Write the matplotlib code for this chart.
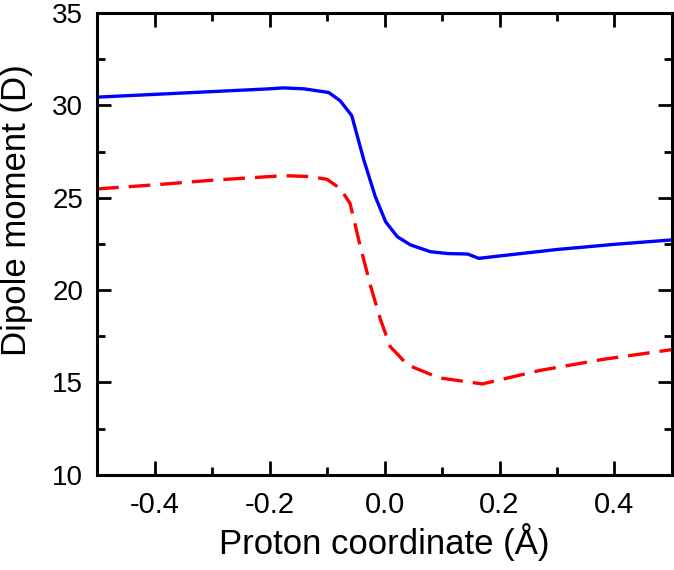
import matplotlib
matplotlib.use('Agg')
import matplotlib.pyplot as plt
from matplotlib.ticker import MultipleLocator

plt.rcParams['font.family'] = ['Liberation Sans', 'DejaVu Sans']

# solid blue curve
x_blue = [-0.5, -0.4, -0.3, -0.2, -0.176, -0.14, -0.097, -0.077, -0.057, -0.036,
          -0.016, 0.002, 0.022, 0.045, 0.08, 0.11, 0.138, 0.145, 0.164, 0.2,
          0.3, 0.4, 0.5]
y_blue = [30.45, 30.6, 30.75, 30.9, 30.95, 30.9, 30.7, 30.25, 29.45, 27.05,
          25.06, 23.7, 22.9, 22.45, 22.08, 21.98, 21.96, 21.95, 21.72, 21.85,
          22.2, 22.48, 22.72]

# dashed red curve
x_red = [-0.5, -0.4, -0.3, -0.2, -0.176, -0.13, -0.1, -0.077, -0.06, -0.042,
         -0.024, -0.007, 0.01, 0.04, 0.095, 0.17, 0.27, 0.38, 0.5]
y_red = [25.48, 25.7, 25.95, 26.15, 26.2, 26.15, 26.0, 25.5, 24.7, 22.35,
         20.2, 18.4, 16.94, 15.95, 15.25, 14.92, 15.65, 16.25, 16.78]

fig = plt.figure(figsize=(6.74, 5.7), dpi=100)
ax = fig.add_axes([0.144, 0.167, 0.853, 0.81])

ax.plot(x_blue, y_blue, color='#0000ff', lw=2.4, solid_joinstyle='round')
ax.plot(x_red, y_red, color='#ff0000', lw=2.4, dashes=(6.5, 3))

ax.set_xlim(-0.5, 0.5)
ax.set_ylim(10, 35)
ax.xaxis.set_minor_locator(MultipleLocator(0.1))
ax.yaxis.set_major_locator(MultipleLocator(5))
ax.yaxis.set_minor_locator(MultipleLocator(2.5))
ax.set_xticks([-0.4, -0.2, 0.0, 0.2, 0.4])
ax.set_xticklabels(['-0.4', '-0.2', '0.0', '0.2', '0.4'])

ax.tick_params(which='both', direction='in', top=True, right=True, width=2)
ax.tick_params(which='major', length=10)
ax.tick_params(which='minor', length=6)
ax.tick_params(axis='x', which='major', labelsize=21, pad=12)
ax.tick_params(axis='y', which='major', labelsize=20, pad=10)
for s in ax.spines.values():
    s.set_linewidth(2.2)

ax.set_xlabel('Proton coordinate (Å)', fontsize=25)
ax.set_ylabel('Dipole moment (D)', fontsize=25)
ax.xaxis.set_label_coords(0.5, -0.105)
ax.yaxis.set_label_coords(-0.111, 0.574)

fig.savefig('out.png', dpi=100)
